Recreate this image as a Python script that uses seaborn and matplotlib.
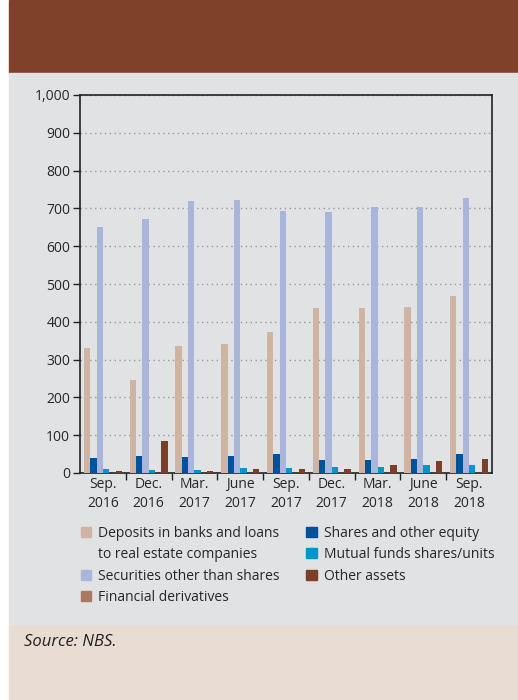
import numpy as np
import pandas as pd
import seaborn as sns
import matplotlib.pyplot as plt
from matplotlib.patches import Rectangle, Patch
from matplotlib.ticker import FuncFormatter, FixedLocator

# --- data (EUR millions) ---
periods = ["Sep.\n2016", "Dec.\n2016", "Mar.\n2017", "June\n2017", "Sep.\n2017",
           "Dec.\n2017", "Mar.\n2018", "June\n2018", "Sep.\n2018"]

deposits = [331, 247, 337, 342, 374, 437, 437, 440, 468]
shares = [41, 46, 43, 46, 51, 35, 35, 38, 51]
securities = [650, 673, 720, 723, 692, 690, 705, 705, 728]
mutual_funds = [11, 9, 9, 14, 14, 17, 17, 20, 20]
fin_derivatives = [0, 0, 0, 0, 0, 0, 0, 0, 0]
other_assets = [6, 85, 6, 11, 11, 11, 20, 33, 38]

series_names = ["Deposits in banks and loans\nto real estate companies",
                "Shares and other equity",
                "Securities other than shares",
                "Mutual funds shares/units",
                "Financial derivatives",
                "Other assets"]
series_values = [deposits, shares, securities, mutual_funds, fin_derivatives, other_assets]
colors = ["#cfb3a3", "#00529b", "#a9b5db", "#0096cd", "#a97a62", "#7c3e26"]

rows = []
for name, vals in zip(series_names, series_values):
    for p, v in zip(periods, vals):
        rows.append({"period": p, "series": name, "value": v})
df = pd.DataFrame(rows)

# --- figure ---
sns.set_theme(style="white")
plt.rcParams["font.family"] = ["Open Sans", "DejaVu Sans"]

W, H = 518, 700
fig = plt.figure(figsize=(W / 100, H / 100), dpi=100, facecolor="white")

def fig_rect(x0, y0, x1, y1, color):
    fig.patches.append(Rectangle((x0 / W, 1 - y1 / H), (x1 - x0) / W, (y1 - y0) / H,
                                 transform=fig.transFigure, color=color, zorder=-10))

fig_rect(9, 0, W, 73, "#7f4129")
fig_rect(9, 73, W, 626, "#e1e2e4")
fig_rect(9, 626, W, H, "#e8dcd3")

ax = fig.add_axes([80 / W, 1 - 473 / H, (492 - 80) / W, (473 - 95) / H])
ax.set_facecolor("none")

sns.barplot(data=df, x="period", y="value", hue="series", hue_order=series_names,
            palette=colors, width=0.83, gap=0, saturation=1, ax=ax, legend=False,
            errorbar=None, linewidth=0, edgecolor="none", zorder=3)

ax.set_xlim(-0.5, len(periods) - 0.5)
ax.set_ylim(0, 1000)
ax.set_yticks(np.arange(0, 1001, 100))
ax.yaxis.set_major_formatter(FuncFormatter(lambda v, _: f"{int(v):,}"))
ax.yaxis.grid(True, linestyle=(0, (1, 2.5)), color="#9a9a9a", linewidth=1.0, zorder=0)
ax.set_axisbelow(True)

ax.tick_params(axis="y", which="major", direction="out", length=5, width=1,
               color="#222222", labelsize=10, pad=2, left=True)
ax.tick_params(axis="x", which="major", length=0, labelsize=10, pad=3)
ax.xaxis.set_minor_locator(FixedLocator(np.arange(0.5, len(periods) - 0.5, 1)))
ax.tick_params(axis="x", which="minor", direction="out", length=5, width=1,
               color="#222222", bottom=True)
for lab in ax.get_xticklabels():
    lab.set_linespacing(1.35)

for s in ax.spines.values():
    s.set_visible(True)
    s.set_color("#222222")
    s.set_linewidth(1.2)

ax.set_xlabel("")
ax.set_ylabel("")

# --- legend (two columns, second line of first label as blank entry) ---
handles = [
    Patch(color=colors[0], label="Deposits in banks and loans"),
    Patch(color="none", label="to real estate companies"),
    Patch(color=colors[2], label=series_names[2]),
    Patch(color=colors[4], label=series_names[4]),
    Patch(color=colors[1], label=series_names[1]),
    Patch(color=colors[3], label=series_names[3]),
    Patch(color=colors[5], label=series_names[5]),
]
fig.legend(handles=handles, loc="upper left", bbox_to_anchor=(81 / W, 1 - 526 / H),
           ncol=2, frameon=False, fontsize=10, handlelength=0.75, handleheight=0.75,
           handletextpad=0.5, labelspacing=0.45, columnspacing=1.9,
           borderaxespad=0, borderpad=0)

fig.text(24 / W, 1 - 642 / H, "Source: NBS.", fontsize=12, style="italic",
         va="center", ha="left", color="#231f20")

fig.savefig("out.png", dpi=100, facecolor="white")
